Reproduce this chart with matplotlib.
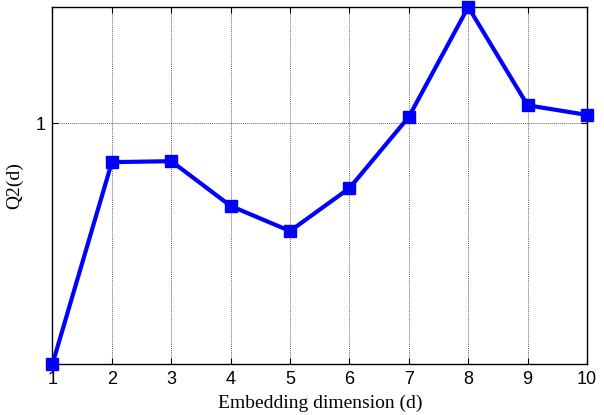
import matplotlib
matplotlib.use("Agg")
import matplotlib.pyplot as plt

# data
dims = [1, 2, 3, 4, 5, 6, 7, 8, 9, 10]
q2 = [0.500, 0.919, 0.921, 0.828, 0.776, 0.865, 1.013, 1.241, 1.037, 1.017]
y_ticks = [1]

fig = plt.figure(figsize=(6.04, 4.15), dpi=100)
ax = fig.add_axes([0.0869, 0.1229, 0.885, 0.8602])

ax.plot(dims, q2, color="#0000ff", linewidth=3, marker="s", markersize=9,
        clip_on=False, zorder=3)

ax.set_xlim(1, 10)
ax.set_ylim(min(q2), max(q2))
ax.set_xticks(dims)
ax.set_yticks(y_ticks)
ax.set_yticklabels([str(t) for t in y_ticks])

ax.grid(True, color="#666666", linestyle=(0, (1, 1)), linewidth=0.7)
ax.tick_params(direction="in", length=4, width=0.8, top=True, right=True,
               labelsize=13, pad=5)
for lab in ax.get_xticklabels() + ax.get_yticklabels():
    lab.set_family("Liberation Sans")
for sp in ax.spines.values():
    sp.set_linewidth(1.0)

ax.set_xlabel("Embedding dimension (d)", family="Liberation Serif", fontsize=14,
              labelpad=5)
ax.set_ylabel("Q2(d)", family="Liberation Serif", fontsize=14, labelpad=9)

fig.savefig("out.png", dpi=100)
